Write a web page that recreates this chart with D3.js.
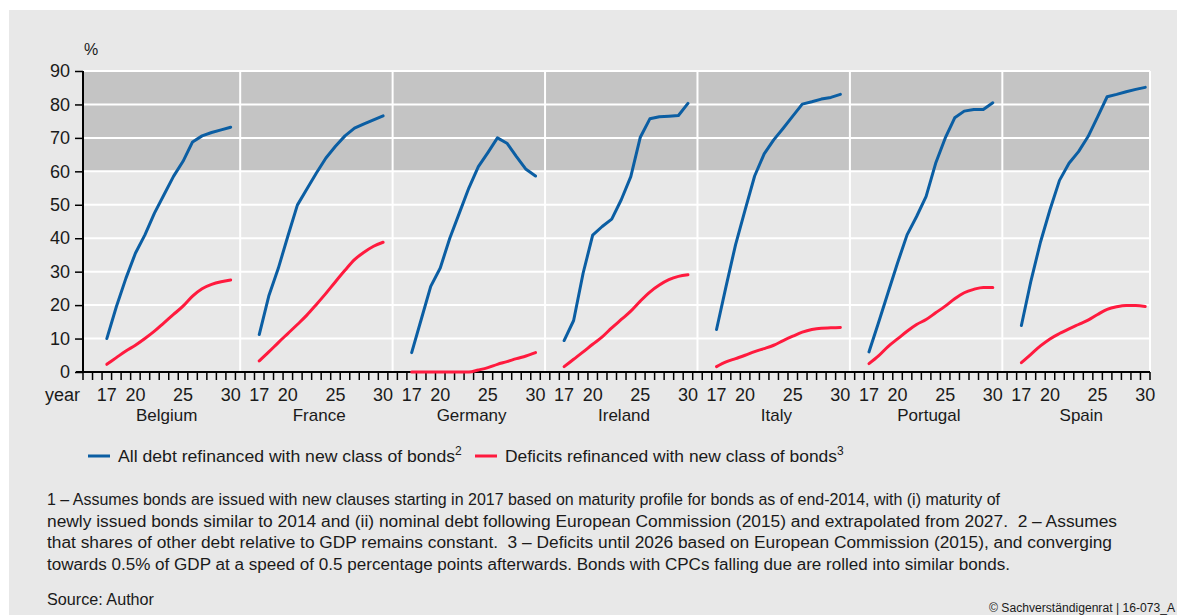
<!DOCTYPE html>
<html>
  <head>
    <meta charset="utf-8">
    <title>Debt refinanced with new class of bonds</title>
    <script src="https://cdnjs.cloudflare.com/ajax/libs/d3/7.8.5/d3.min.js" charset="utf-8"></script>
    <style>
      body { margin:0; background:#fff; }
      text { font-family: "Liberation Sans", sans-serif; fill:#1a1a1a; }
    </style>
  </head>
  <body>
    <div id="chart"></div>
    <script>

// data (% , years 2017..2030)
var countries = ["Belgium","France","Germany","Ireland","Italy","Portugal","Spain"];
var panelYears = [15,16,17,18,19,20,21,22,23,24,25,26,27,28,29,30];
var years = [17,18,19,20,21,22,23,24,25,26,27,28,29,30];
var yearLabels = [17,20,25,30];
var yTicks = [0,10,20,30,40,50,60,70,80,90];

var belgiumAll  = [10,19.5,28,35.5,41,47.5,53,58.5,63,68.8,70.6,71.6,72.4,73.2];
var franceAll   = [11.2,22.7,31,40.6,49.9,54.7,59.5,64,67.5,70.6,72.9,74.2,75.4,76.6];
var germanyAll  = [5.8,15.7,25.6,31.1,40,47.5,55,61.4,65.6,70,68.4,64.4,60.6,58.6];
var irelandAll  = [9.4,15.4,29.6,40.9,43.5,45.7,51.5,58.4,70.2,75.7,76.3,76.5,76.7,80.3];
var italyAll    = [12.7,25.6,38.1,48.5,58.6,65.2,69.4,72.9,76.5,80.1,80.8,81.6,82.1,83];
var portugalAll = [6,14.7,23.7,32.6,41,46.5,52.5,62.4,69.9,76,78,78.5,78.5,80.5];
var spainAll    = [13.9,27.2,38.8,48.5,57.3,62.4,65.9,70.4,76.3,82.3,83,83.8,84.5,85.1];

var belgiumDef  = [2.3,4.3,6.3,8,10,12.2,14.7,17.2,19.7,22.7,24.9,26.2,27,27.5];
var franceDef   = [3.3,6,8.8,11.5,14.2,17,20.2,23.5,27,30.4,33.6,35.8,37.6,38.8];
var germanyDef  = [0,0,0,0,0,0,0,0.6,1.3,2.3,3.1,4,4.8,5.8];
var irelandDef  = [1.6,3.8,6,8.3,10.5,13.2,15.7,18.2,21.2,23.9,26,27.6,28.6,29.1];
var italyDef    = [1.6,3,4,5,6.1,7,8,9.4,10.7,11.9,12.7,13.1,13.2,13.3];
var portugalDef = [2.5,4.8,7.6,9.9,12.2,14.2,15.7,17.7,19.7,21.9,23.7,24.7,25.3,25.3];
var spainDef    = [2.8,5.3,7.8,9.9,11.5,12.9,14.2,15.5,17.2,18.7,19.5,19.9,19.9,19.6];

var allDebt  = [belgiumAll,franceAll,germanyAll,irelandAll,italyAll,portugalAll,spainAll];
var deficits = [belgiumDef,franceDef,germanyDef,irelandDef,italyDef,portugalDef,spainDef];

var blue = "#0b5ea3", red = "#ff1a3e";
var W = 1187, H = 615;

window.addEventListener("load", run);

function run () {
    var svg = d3.select("#chart").append("svg")
        .attr("width", W).attr("height", H);

    svg.append("rect").attr("x",9).attr("y",10)
        .attr("width",1168).attr("height",H-10)
        .attr("fill","#e8e8e8");

    var panel = d3.scaleBand().domain(countries).range([83,1150]);
    var yr = d3.scaleBand().domain(panelYears).range([0, panel.bandwidth()]);
    var y = d3.scaleLinear().domain([0,90]).range([372,71]);

    function xc (c, year) { return panel(c) + yr(year) + yr.bandwidth()/2; }

    // grey zone 60-90
    svg.append("rect")
        .attr("x",83).attr("y",y(90))
        .attr("width",1150-83).attr("height",y(60)-y(90))
        .attr("fill","#c4c4c4");

    // white grid
    svg.selectAll("line.hgrid").data(yTicks.slice(1)).enter()
        .append("line").attr("class","hgrid")
        .attr("x1",83).attr("x2",1150)
        .attr("y1",function(d){return y(d);}).attr("y2",function(d){return y(d);})
        .attr("stroke","#fff").attr("stroke-width",2);

    var dividers = countries.slice(1).map(function(c){ return panel(c) + yr.bandwidth()/2; });
    dividers.push(1150);
    svg.selectAll("line.vgrid").data(dividers).enter()
        .append("line").attr("class","vgrid")
        .attr("x1",function(d){return d;}).attr("x2",function(d){return d;})
        .attr("y1",y(90)).attr("y2",y(0))
        .attr("stroke","#fff").attr("stroke-width",2);

    // y axis
    var yAxis = d3.axisLeft(y).tickValues(yTicks).tickSize(8).tickPadding(5);
    var gy = svg.append("g").attr("transform","translate(83,0)").call(yAxis);
    gy.select(".domain").attr("stroke","#000").attr("stroke-width",2)
        .attr("d","M0,"+y(90)+"V"+y(0));
    gy.selectAll(".tick line").attr("stroke","#000").attr("stroke-width",1.5);
    gy.selectAll(".tick text").style("font-size","18px")
        .style("font-family","'Liberation Sans', sans-serif").attr("fill","#1a1a1a");

    svg.append("text").attr("x",84).attr("y",55).style("font-size","16px").text("%");

    // x axis: one band per year, ticks between bands
    svg.append("line").attr("x1",76).attr("x2",1150)
        .attr("y1",y(0)).attr("y2",y(0))
        .attr("stroke","#000").attr("stroke-width",2);
    var tickXs = [];
    countries.forEach(function(c){
        panelYears.forEach(function(yy){ tickXs.push(panel(c) + yr(yy)); });
    });
    tickXs.push(1150);
    svg.selectAll("line.xtick").data(tickXs).enter()
        .append("line").attr("class","xtick")
        .attr("x1",function(d){return d;}).attr("x2",function(d){return d;})
        .attr("y1",y(0)).attr("y2",y(0)+8)
        .attr("stroke","#000").attr("stroke-width",1.5);

    svg.append("text").attr("x",45).attr("y",401)
        .style("font-size","18px")
        .text("year");

    countries.forEach(function(c, i){
        var g = svg.append("g");
        g.selectAll("text.yl").data(yearLabels).enter()
            .append("text").attr("class","yl")
            .attr("x",function(d){return xc(c,d);})
            .attr("y",401).attr("text-anchor","middle")
            .style("font-size","18px")
            .text(function(d){return d;});
        g.append("text")
            .attr("x",(xc(c,17)+xc(c,30))/2 - 2).attr("y",421)
            .attr("text-anchor","middle")
            .style("font-size","17px")
            .text(c);

        var pts = function(arr){ return years.map(function(yy,k){ return [xc(c,yy), y(arr[k])]; }); };
        g.append("path").attr("d", d3.line().curve(d3.curveMonotoneX)(pts(deficits[i])))
            .attr("fill","none").attr("stroke",red).attr("stroke-width",3)
            .attr("stroke-linecap","round").attr("stroke-linejoin","round");
        g.append("path").attr("d", d3.line()(pts(allDebt[i])))
            .attr("fill","none").attr("stroke",blue).attr("stroke-width",3)
            .attr("stroke-linecap","round").attr("stroke-linejoin","round");
    });

    // legend
    var legend = [
        {x:88, label:"All debt refinanced with new class of bonds", w:337, sup:"2", color:blue},
        {x:475, label:"Deficits refinanced with new class of bonds", w:332, sup:"3", color:red}
    ];
    legend.forEach(function(l){
        svg.append("line").attr("x1",l.x).attr("x2",l.x+22)
            .attr("y1",456).attr("y2",456)
            .attr("stroke",l.color).attr("stroke-width",3);
        svg.append("text").attr("x",l.x+30).attr("y",462)
            .attr("textLength",l.w).attr("lengthAdjust","spacingAndGlyphs")
            .style("font-size","17px").text(l.label);
        svg.append("text").attr("x",l.x+30+l.w).attr("y",455)
            .style("font-size","12px").text(l.sup);
    });

    var notes = [
        "1 \u2013 Assumes bonds are issued with new clauses starting in 2017 based on maturity profile for bonds as of end-2014, with (i) maturity of",
        "newly issued bonds similar to 2014 and (ii) nominal debt following European Commission (2015) and extrapolated from 2027.\u00a0 2 \u2013 Assumes",
        "that shares of other debt relative to GDP remains constant.\u00a0 3 \u2013 Deficits until 2026 based on European Commission (2015), and converging",
        "towards 0.5% of GDP at a speed of 0.5 percentage points afterwards. Bonds with CPCs falling due are rolled into similar bonds."
    ];
    var noteW = [953, 1070, 1065, 963];
    notes.forEach(function(n, i){
        svg.append("text").attr("x",47).attr("y",505 + i*21.7)
            .attr("textLength",noteW[i]).attr("lengthAdjust","spacingAndGlyphs")
            .style("font-size","16px")
            .text(n);
    });
    svg.append("text").attr("x",47).attr("y",605)
        .style("font-size","16px")
        .attr("textLength",107).attr("lengthAdjust","spacingAndGlyphs")
        .text("Source: Author");
    svg.append("text").attr("x",1175).attr("y",612).attr("text-anchor","end")
        .attr("textLength",186).attr("lengthAdjust","spacingAndGlyphs")
        .style("font-size","12px")
        .text("\u00a9 Sachverst\u00e4ndigenrat | 16-073_A");
}
    </script>
  </body>
</html>
